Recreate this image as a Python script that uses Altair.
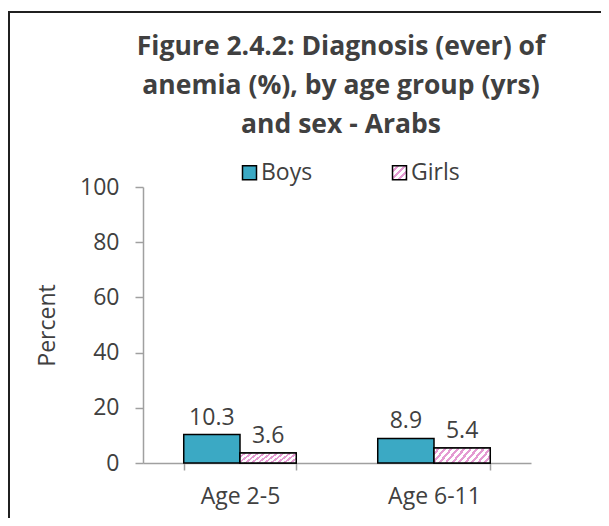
import altair as alt
import pandas as pd

categories = ["Age 2-5", "Age 6-11"]
series = ["Boys", "Girls"]
boys = [10.3, 8.9]
girls = [3.6, 5.4]

rows = []
for i, c in enumerate(categories):
    rows.append({"category": c, "sex": "Boys", "value": boys[i]})
    rows.append({"category": c, "sex": "Girls", "value": girls[i]})
df = pd.DataFrame(rows)

FONT = "Open Sans"
TXT = "#404040"
AXC = "#A0A0A0"
BOYS_C = "#3BA9C4"
PINK = "#E49AD2"


def stripe_stops(n, frac=0.55):
    out = []
    for k in range(n):
        a = k / n
        m = (k + frac) / n
        b = (k + 1) / n
        out += [(a, "white"), (m, "white"), (m, PINK), (b, PINK)]
    return out


# bar stripes: hard-stop linear gradient imitating diagonal hatching
stripe = alt.LinearGradient(
    gradient="linear", x1=0, y1=0, x2=1.2, y2=0.27,
    stops=[alt.GradientStop(offset=o, color=c) for o, c in stripe_stops(11)],
)

# legend symbol stripes (square symbol) given as an expression object
legend_stops = ", ".join("{offset: %.4f, color: '%s'}" % (o, c) for o, c in stripe_stops(4))
legend_grad = {"expr": "{gradient: 'linear', x1: 0, y1: 0, x2: 1, y2: 1, stops: [" + legend_stops + "]}"}

base = alt.Chart(df).encode(
    x=alt.X("category:N", sort=categories,
            scale=alt.Scale(paddingInner=0.42, paddingOuter=0.21),
            axis=alt.Axis(title=None, labelAngle=0, tickBand="extent",
                          domainColor=AXC, tickColor=AXC, domainWidth=1.5, tickWidth=1.5,
                          tickSize=7, labelFont=FONT, labelFontSize=23, labelColor=TXT,
                          labelPadding=15)),
    xOffset=alt.XOffset("sex:N", sort=series, scale=alt.Scale(paddingInner=0, paddingOuter=0)),
    y=alt.Y("value:Q", scale=alt.Scale(domain=[0, 100], nice=False),
            axis=alt.Axis(title="Percent", values=[0, 20, 40, 60, 80, 100], grid=False,
                          domainColor=AXC, tickColor=AXC, domainWidth=1.5, tickWidth=1.5,
                          tickSize=8, labelFont=FONT, labelFontSize=23, labelColor=TXT,
                          labelPadding=16, titleFont=FONT, titleFontSize=23,
                          titleFontWeight="normal", titleColor=TXT, titlePadding=20)),
)

bars = base.mark_bar(stroke="black", strokeWidth=1.5).encode(
    fill=alt.Fill("sex:N", scale=alt.Scale(domain=series, range=[BOYS_C, legend_grad]),
                  legend=alt.Legend(title=None, orient="none", legendX=95, legendY=-26,
                                    direction="horizontal", symbolType="square",
                                    symbolSize=196, symbolStrokeColor="black",
                                    symbolStrokeWidth=1.5, labelFont=FONT, labelFontSize=23,
                                    labelColor=TXT, labelOffset=0, columnPadding=75,
                                    padding=0))
)

girls_overlay = base.transform_filter(alt.datum.sex == "Girls").mark_bar(
    fill=stripe, stroke="black", strokeWidth=1.5
)

labels = base.mark_text(dy=-10, baseline="alphabetic", font=FONT, fontSize=23, color=TXT).encode(
    text=alt.Text("value:Q", format=".1f")
)

# outer frame of the figure (only its top and left edges fall inside the page)
frame = alt.Chart(df).mark_rect(fill="transparent", stroke="#202020", strokeWidth=2).encode(
    x=alt.value(-134), x2=alt.value(700), y=alt.value(-175), y2=alt.value(600)
)

chart = alt.layer(bars, girls_overlay, labels, frame).properties(
    width=388, height=276,
    padding={"left": 135, "top": 179, "right": 70, "bottom": 55},
    autosize=alt.AutoSizeParams(type="none"),
    title=alt.TitleParams(
        text=["Figure 2.4.2: Diagnosis (ever) of", "anemia (%), by age group (yrs)", "and sex - Arabs"],
        font=FONT, fontSize=26.5, fontWeight="bold", color=TXT, anchor="middle",
        frame="group", lineHeight=39, baseline="alphabetic", offset=0, dy=148.5, dx=4
    ),
).configure_view(stroke=None)

chart.save("out.html", embed_options={"renderer": "svg", "actions": False})
